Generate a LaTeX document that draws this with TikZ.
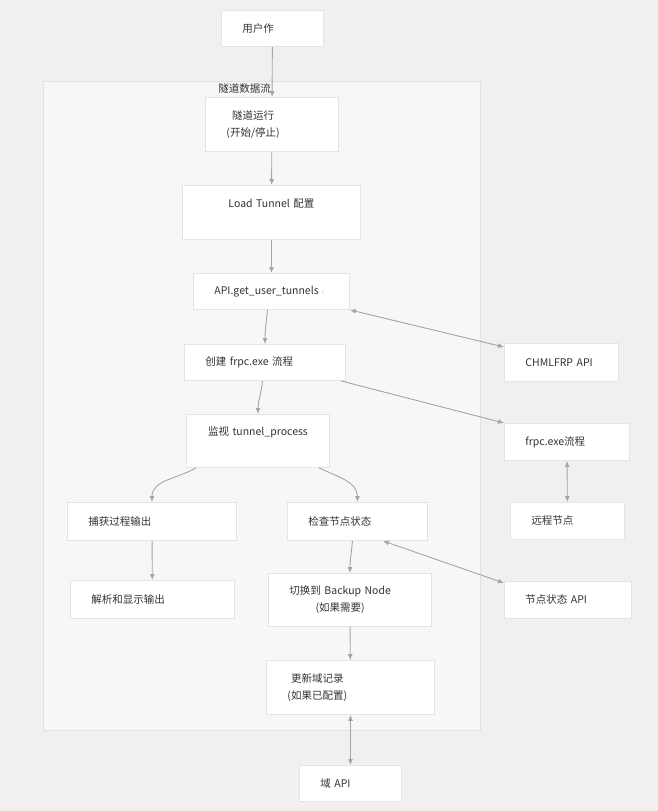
\documentclass[tikz,border=0pt]{standalone}
\usepackage{fontspec}
\setmainfont{Noto Sans CJK SC}
\usepackage{tikz}
\usetikzlibrary{arrows.meta, positioning}

\definecolor{bggray}{HTML}{F1F0EE}
\definecolor{subfill}{HTML}{F7F7F7}
\definecolor{subline}{HTML}{E2E2E2}
\definecolor{boxline}{HTML}{E4E4E4}
\definecolor{arrowgray}{HTML}{A5A5A5}
\definecolor{textgray}{HTML}{333333}

\newcommand{\twoline}[2]{\begin{tabular}{@{}c@{}}#1\\#2\end{tabular}}

\tikzset{
	box/.style={draw=boxline, line width=0.9pt, fill=white, anchor=north west,
		align=left, inner xsep=21pt, inner ysep=0pt, text=textgray,
		font=\fontsize{10.5}{17}\selectfont},
	flow/.style={draw=arrowgray, line width=0.9pt, -{Latex[length=6pt,width=5pt]}},
	both/.style={draw=arrowgray, line width=0.9pt, {Latex[length=6pt,width=5pt]}-{Latex[length=6pt,width=5pt]}}
}

\begin{document}
\begin{tikzpicture}[x=1pt, y=1pt]

\useasboundingbox[fill=bggray] (0,0) rectangle (658,-811);

% subgraph
\fill[subfill, draw=subline, line width=0.9pt] (43,-81) rectangle (480,-730);
\node[text=textgray, font=\fontsize{10.5}{17}\selectfont] (sublabel) at (244.5,-89) {隧道数据流};

% left column
\node[box, text width=60, minimum height=36] (user) at (221,-10) {用户作};
\node[box, text width=91, minimum height=54] (run) at (205,-97) {\twoline{隧道运行}{(开始/停止)}};
\node[box, text width=136, minimum height=54, align=center] (load) at (182,-185) {\twoline{Load Tunnel 配置}{\mbox{}}};
\node[box, text width=114, minimum height=36] (api) at (193,-273) {API.get\_user\_tunnels {\color{arrowgray!70}\fontsize{6}{8}\selectfont(}};
\node[box, text width=119, minimum height=36] (create) at (184,-344) {创建 frpc.exe 流程};
\node[box, text width=101, minimum height=53, align=center] (mon) at (186,-414) {\twoline{监视 tunnel\_process}{\mbox{}}};
\node[box, text width=127, minimum height=38] (cap) at (67,-502) {捕获过程输出};
\node[box, text width=98, minimum height=38] (check) at (287,-502) {检查节点状态};
\node[box, text width=122, minimum height=38] (parse) at (70,-580) {解析和显示输出};
\node[box, text width=121, minimum height=53] (switch) at (268,-573) {\twoline{切换到 Backup Node}{(如果需要)}};
\node[box, text width=126, minimum height=54] (upd) at (266,-660) {\twoline{更新域记录}{(如果已配置)}};
\node[box, text width=60, minimum height=36] (dom) at (299,-765) {域 API};

% right column
\node[box, text width=72, minimum height=38] (chml) at (504,-343) {CHMLFRP API};
\node[box, text width=83, minimum height=37] (frpc) at (504,-423) {frpc.exe流程};
\node[box, text width=72, minimum height=37] (remote) at (510,-502) {远程节点};
\node[box, text width=85, minimum height=37] (nodeapi) at (504,-581) {节点状态 API};

% connectors
\draw[flow] (user) -- (run);
\draw[flow] (run) -- (load);
\draw[flow] (load) -- (api);
\draw[flow] ([xshift=-4pt]api.south) to[out=-95, in=90] (create.north);
\draw[flow] ([xshift=-2.5pt]create.south) to[out=-95, in=90] (mon.north);
\draw[flow] ([xshift=10pt]mon.south west) to[out=-150, in=90] (cap.north);
\draw[flow] ([xshift=-11pt]mon.south east) to[out=-25, in=90] (check.north);
\draw[flow] (cap) -- (parse);
\draw[flow] ([xshift=-5pt]check.south) to[out=-95, in=90] (switch.north);
\draw[flow] (switch) -- (upd);
\draw[both] (upd) -- (dom);
\draw[both] (api.south east) -- ([yshift=-4pt]chml.north west);
\draw[flow] ([xshift=-5pt]create.south east) -- (frpc.north west);
\draw[both] (frpc) -- (remote);
\draw[both] ([xshift=-45pt]check.south east) -- ([yshift=-2pt]nodeapi.north west);

\end{tikzpicture}
\end{document}
